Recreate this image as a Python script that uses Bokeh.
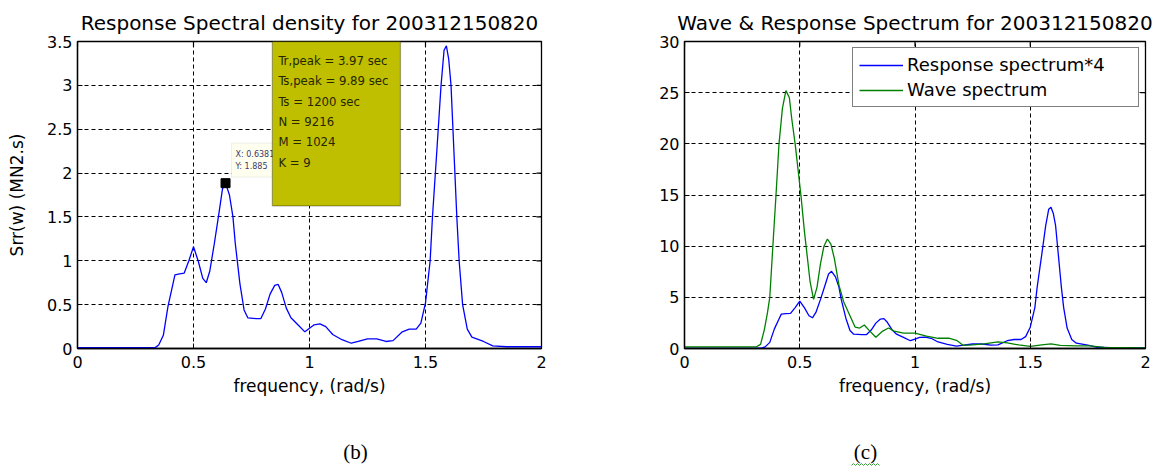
import math
from bokeh.plotting import figure
from bokeh.layouts import row, column
from bokeh.models import (Range1d, FixedTicker, NumeralTickFormatter,
                          Label, BoxAnnotation, Legend, LegendItem)
from bokeh.core.properties import value
from bokeh.embed import file_html
from bokeh.resources import INLINE

# ---- data -------------------------------------------------------------
resp_freq = [0.00, 0.30, 0.335, 0.35, 0.37, 0.39, 0.41, 0.42, 0.44, 0.46, 0.48, 0.50,
             0.52, 0.54, 0.555, 0.57, 0.59, 0.61, 0.625, 0.638, 0.655, 0.67, 0.68, 0.70,
             0.718, 0.734, 0.77, 0.79, 0.81, 0.83, 0.85, 0.865, 0.88, 0.90, 0.92, 0.95,
             0.98, 1.00, 1.02, 1.045, 1.07, 1.10, 1.14, 1.18, 1.21, 1.25, 1.29, 1.33,
             1.36, 1.40, 1.43, 1.46, 1.48, 1.50, 1.52, 1.53, 1.55, 1.567, 1.58, 1.59,
             1.60, 1.61, 1.625, 1.635, 1.645, 1.66, 1.68, 1.70, 1.75, 1.79, 1.85, 2.00]
resp_srr = [0.01, 0.01, 0.01, 0.04, 0.15, 0.48, 0.72, 0.84, 0.85, 0.86, 1.0, 1.16,
            1.0, 0.80, 0.75, 0.88, 1.2, 1.55, 1.82, 1.885, 1.75, 1.5, 1.2, 0.74,
            0.44, 0.35, 0.34, 0.34, 0.45, 0.62, 0.72, 0.73, 0.64, 0.46, 0.35, 0.27,
            0.19, 0.23, 0.27, 0.28, 0.25, 0.16, 0.10, 0.06, 0.08, 0.11, 0.11, 0.08,
            0.09, 0.19, 0.22, 0.22, 0.29, 0.52, 1.0, 1.5, 2.3, 3.0, 3.4, 3.45,
            3.3, 3.0, 2.1, 1.5, 1.0, 0.5, 0.22, 0.13, 0.08, 0.03, 0.02, 0.02]

wave_freq = [0.00, 0.31, 0.33, 0.346, 0.36, 0.37, 0.386, 0.397, 0.41, 0.425, 0.44, 0.455,
             0.465, 0.48, 0.495, 0.505, 0.52, 0.535, 0.545, 0.56, 0.575, 0.59, 0.605, 0.62,
             0.635, 0.65, 0.67, 0.69, 0.71, 0.74, 0.76, 0.78, 0.80, 0.83, 0.86, 0.885,
             0.91, 0.95, 1.00, 1.05, 1.10, 1.15, 1.18, 1.21, 1.25, 1.30, 1.36, 1.40,
             1.45, 1.50, 1.55, 1.59, 1.63, 1.70, 1.76, 1.82, 2.00]
wave_s = [0.15, 0.15, 0.4, 1.8, 3.5, 5.0, 11.0, 15.0, 20.0, 23.5, 25.2, 24.5,
          22.5, 20.0, 17.0, 15.0, 11.5, 8.5, 6.5, 4.8, 6.0, 8.3, 10.0, 10.7,
          10.2, 8.8, 6.2, 4.6, 3.6, 2.1, 2.0, 2.3, 1.8, 1.1, 1.7, 2.0,
          1.7, 1.5, 1.5, 1.2, 1.0, 1.0, 0.8, 0.3, 0.35, 0.45, 0.65, 0.55,
          0.35, 0.2, 0.35, 0.45, 0.3, 0.25, 0.25, 0.1, 0.05]

response_scale = 4
resp_scaled = [v * response_scale for v in resp_srr]

x_ticks = [0, 0.5, 1, 1.5, 2]
y_ticks_b = [0, 0.5, 1, 1.5, 2, 2.5, 3, 3.5]
y_ticks_c = [0, 5, 10, 15, 20, 25, 30]

# datatip on the main response peak
tip_x = 0.6381
tip_y = 1.885

info_lines = ["Tr,peak = 3.97 sec", "Ts,peak = 9.89 sec", "Ts =  1200 sec",
              "N = 9216", "M = 1024", "K = 9"]

captions = ["(b)", "(c)"]

FONT = "DejaVu Sans"
NARROW = "Liberation Sans Narrow, DejaVu Sans Condensed, sans-serif"
SERIF = "Liberation Serif"

PANEL_H = 420
CAPTION_H = 48


def matlab_axes(p, xt, yt):
    p.outline_line_color = "black"
    p.outline_line_width = 1.3
    p.background_fill_color = "white"
    p.border_fill_color = "white"
    p.title.text_font = FONT
    p.title.text_font_size = "20px"
    p.title.text_font_style = "normal"
    p.title.align = "center"
    p.title.text_color = "black"
    p.title.standoff = 14
    for ax in p.xaxis + p.yaxis:
        ax.major_label_text_font = FONT
        ax.major_label_text_font_size = "16px"
        ax.major_label_text_color = "black"
        ax.axis_label_text_font = FONT
        ax.axis_label_text_font_size = "17px"
        ax.axis_label_text_font_style = "normal"
        ax.axis_label_text_color = "black"
        ax.major_tick_in = 5
        ax.major_tick_out = 0
        ax.minor_tick_line_color = None
        ax.axis_line_color = "black"
        ax.axis_line_width = 1.3
        ax.major_tick_line_color = "black"
        ax.formatter = NumeralTickFormatter(format="0.[0]")
    p.xaxis.ticker = FixedTicker(ticks=xt)
    p.xaxis.major_label_standoff = 7
    p.xaxis.axis_label_standoff = 5
    p.xaxis.axis_label = "frequency, (rad/s)"
    p.yaxis.ticker = FixedTicker(ticks=yt)
    p.yaxis.major_label_standoff = 5
    p.xgrid.ticker = FixedTicker(ticks=xt)
    p.ygrid.ticker = FixedTicker(ticks=yt)
    for g in (p.xgrid, p.ygrid):
        g.grid_line_color = "black"
        g.grid_line_dash = "4 3"
        g.grid_line_width = 1
    # inward tick marks along the top and right edges (half of each dash is clipped)
    x1 = p.x_range.end
    y1 = p.y_range.end
    p.scatter(xt, [y1] * len(xt), marker="dash", angle=math.pi / 2, size=10,
              line_color="black", line_width=1.2)
    p.scatter([x1] * len(yt), yt, marker="dash", size=10,
              line_color="black", line_width=1.2)


# ---- (b) response spectral density -----------------------------------
p1 = figure(width=580, height=PANEL_H, x_range=Range1d(0, 2), y_range=Range1d(0, 3.5),
            output_backend="svg", toolbar_location=None,
            min_border_left=77, min_border_right=39, min_border_top=41,
            min_border_bottom=72,
            title="Response Spectral density for 200312150820")
p1.line(resp_freq, resp_srr, line_color="#0000ff", line_width=1.3)
matlab_axes(p1, x_ticks, y_ticks_b)
p1.yaxis.axis_label = "Srr(w) (MN2.s)"
p1.yaxis.axis_label_standoff = 17

# datatip
p1.add_layout(BoxAnnotation(left=0.664, right=0.86, top=2.341, bottom=1.955,
                            fill_color="#fffff0", fill_alpha=1,
                            line_color="#c8c8b8", line_width=1))
p1.add_layout(Label(x=0.664, y=2.341, x_offset=4, y_offset=-11, text=f"X: {tip_x}",
                    text_font=FONT, text_font_size="8px", text_color="#3a3a6a",
                    text_baseline="middle"))
p1.add_layout(Label(x=0.664, y=2.341, x_offset=4, y_offset=-23, text=f"Y: {tip_y}",
                    text_font=FONT, text_font_size="8px", text_color="#3a3a6a",
                    text_baseline="middle"))
p1.scatter([tip_x], [tip_y], marker="square", size=9, fill_color="black",
           line_color="black")

# information box
p1.add_layout(BoxAnnotation(left=0.84, right=1.392, top=3.5, bottom=1.625,
                            fill_color="#bfbf00", fill_alpha=1,
                            line_color="black", line_width=1.3))
for i, txt in enumerate(info_lines):
    p1.add_layout(Label(x=0.84, y=3.5, x_offset=6, y_offset=-(19 + 20.3 * i), text=txt,
                        text_font=NARROW, text_font_size="13px", text_color="#262600",
                        text_baseline="middle"))

# ---- (c) wave & response spectrum ------------------------------------
p2 = figure(width=583, height=PANEL_H, x_range=Range1d(0, 2), y_range=Range1d(0, 30),
            output_backend="svg", toolbar_location=None,
            min_border_left=104, min_border_right=18, min_border_top=41,
            min_border_bottom=72,
            title="Wave & Response Spectrum for 200312150820")
r_resp = p2.line(resp_freq, resp_scaled, line_color="#0000ff", line_width=1.3)
r_wave = p2.line(wave_freq, wave_s, line_color="#008000", line_width=1.3)
matlab_axes(p2, x_ticks, y_ticks_c)

legend = Legend(items=[LegendItem(label="Response spectrum*4", renderers=[r_resp]),
                       LegendItem(label="Wave spectrum", renderers=[r_wave])],
                location="top_right", margin=6, padding=6, spacing=4,
                glyph_width=44, glyph_height=20, label_height=20, label_width=225,
                label_standoff=4, label_text_font=FONT, label_text_font_size="18px",
                label_text_color="black", border_line_color="black",
                border_line_width=1.3, background_fill_color="white",
                background_fill_alpha=1)
p2.add_layout(legend)

# ---- caption strip under both panels ----------------------------------
cap = figure(width=1163, height=CAPTION_H, x_range=Range1d(0, 1163),
             y_range=Range1d(0, CAPTION_H), output_backend="svg",
             toolbar_location=None, min_border=0)
cap.axis.visible = False
cap.grid.visible = False
cap.outline_line_color = None
cap.text(x=[355, 865], y=[17, 17], text=captions, text_font=value(SERIF),
         text_font_size="21px", text_color="black", text_align="center",
         text_baseline="middle")
# spell-check squiggle under "(c)"
sq_x = [851 + 2 * k for k in range(15)]
sq_y = [3 if k % 2 == 0 else 5 for k in range(15)]
cap.line(sq_x, sq_y, line_color="#3aa03a", line_width=1)

layout = column(row(p1, p2), cap)
open("out.html", "w").write(file_html(layout, INLINE))
